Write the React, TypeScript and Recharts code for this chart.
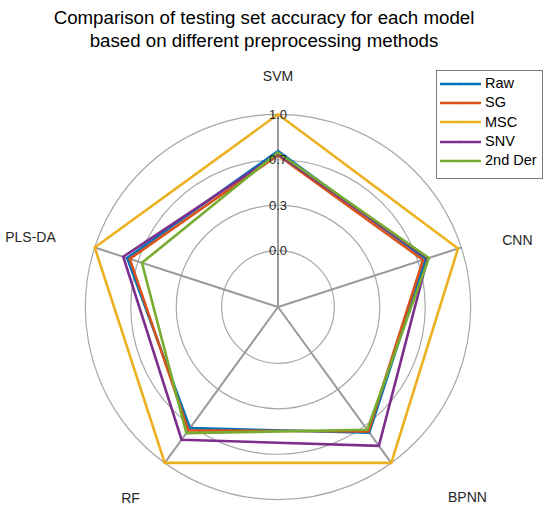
import React from 'react';
import { RadarChart, Radar, PolarGrid, PolarAngleAxis, PolarRadiusAxis, Legend } from 'recharts';

const MODELS = ['SVM', 'CNN', 'BPNN', 'RF', 'PLS-DA'];
const RAW = [0.73, 0.725, 0.725, 0.685, 0.75];
const SG = [0.70, 0.705, 0.715, 0.705, 0.73];
const MSC = [1.0, 0.975, 1.0, 1.0, 1.0];
const SNV = [0.71, 0.74, 0.845, 0.79, 0.78];
const DER2 = [0.72, 0.75, 0.70, 0.73, 0.636];
const RADIUS_TICKS = [0, 1 / 3, 2 / 3, 1];

const SERIES = [
  { key: 'Raw', values: RAW, color: '#0072BD' },
  { key: 'SG', values: SG, color: '#D95319' },
  { key: 'MSC', values: MSC, color: '#EDB120' },
  { key: 'SNV', values: SNV, color: '#7E2F8E' },
  { key: '2nd Der', values: DER2, color: '#77AC30' },
];
const SERIES_ORDER = SERIES.map((s) => s.key);

const data = MODELS.map((m, i) => {
  const row: Record<string, any> = { model: m };
  SERIES.forEach((s) => {
    row[s.key] = s.values[i];
  });
  return row;
});

const FONT = '"Liberation Sans", Arial, Helvetica, sans-serif';
const CX = 278;
const CY = 307;
const OUTER = 192.7;

const LABEL_OFFSETS: Record<string, [number, number]> = {
  SVM: [0, -30],
  CNN: [48.5, -5],
  BPNN: [71.5, 27.6],
  RF: [-29.5, 28.3],
  'PLS-DA': [-56.6, -7.7],
};

const AngleTick = (props: any) => {
  const { x, y, payload } = props;
  const off = LABEL_OFFSETS[payload.value] || [0, 0];
  return (
    <text
      x={x + off[0]}
      y={y + off[1]}
      textAnchor="middle"
      dominantBaseline="central"
      fontSize={14}
      fontFamily={FONT}
      fill="#262626"
    >
      {payload.value}
    </text>
  );
};

const RadiusTick = (props: any) => {
  const { x, y, payload } = props;
  return (
    <text
      x={x}
      y={y}
      textAnchor="middle"
      dominantBaseline="central"
      fontSize={13}
      fontFamily={FONT}
      fill="#262626"
    >
      {Number(payload.value).toFixed(1)}
    </text>
  );
};

const LegendBox = (props: any) => {
  const payload = [...(props.payload || [])].sort(
    (a: any, b: any) => SERIES_ORDER.indexOf(a.value) - SERIES_ORDER.indexOf(b.value)
  );
  return (
    <div
      style={{
        border: '1px solid #7a7a7a',
        background: '#fff',
        width: 105,
        height: 104,
        boxSizing: 'content-box',
        paddingTop: 3,
        fontFamily: FONT,
      }}
    >
      {payload.map((e: any) => (
        <div key={e.value} style={{ display: 'flex', alignItems: 'center', height: 19.3 }}>
          <svg width={48} height={10} style={{ display: 'block' }}>
            <line x1={3} y1={5} x2={44} y2={5} stroke={e.color} strokeWidth={2.5} />
            <circle cx={23.5} cy={5} r={1.2} fill={e.color} />
          </svg>
          <span style={{ fontSize: 14.5, color: '#000', lineHeight: '19px' }}>{e.value}</span>
        </div>
      ))}
    </div>
  );
};

export default function App() {
  return (
    <div style={{ position: 'absolute', left: 0, top: 0, width: 550, height: 514, background: '#fff' }}>
      <div
        style={{
          position: 'absolute',
          left: 0,
          top: 6,
          width: 528,
          textAlign: 'center',
          fontFamily: FONT,
          fontSize: 18.7,
          lineHeight: '23px',
          color: '#000',
          zIndex: 2,
        }}
      >
        Comparison of testing set accuracy for each model
        <br />
        based on different preprocessing methods
      </div>
      <RadarChart
        width={550}
        height={514}
        data={data}
        cx={CX}
        cy={CY}
        outerRadius={OUTER}
        startAngle={90}
        endAngle={-270}
        margin={{ top: 0, right: 0, bottom: 0, left: 0 }}
      >
        <PolarGrid gridType="circle" radialLines={false} stroke="#a8a8a8" strokeWidth={1.2} />
        <PolarGrid gridType="circle" polarRadius={[]} stroke="#9a9a9a" strokeWidth={2} />
        <PolarAngleAxis dataKey="model" tick={<AngleTick />} tickLine={false} axisLine={false} />
        <PolarRadiusAxis
          type="number"
          angle={90}
          domain={[-0.413, 1]}
          ticks={RADIUS_TICKS}
          tick={<RadiusTick />}
          axisLine={false}
          tickLine={false}
          allowDataOverflow
        />
        {SERIES.map((s) => (
          <Radar
            key={s.key}
            name={s.key}
            dataKey={s.key}
            stroke={s.color}
            strokeWidth={2.6}
            fill="none"
            fillOpacity={0}
            dot={false}
            isAnimationActive={false}
          />
        ))}
        <Legend
          content={<LegendBox />}
          wrapperStyle={{ position: 'absolute', left: 436, top: 70, width: 'auto', height: 'auto' }}
        />
      </RadarChart>
    </div>
  );
}
